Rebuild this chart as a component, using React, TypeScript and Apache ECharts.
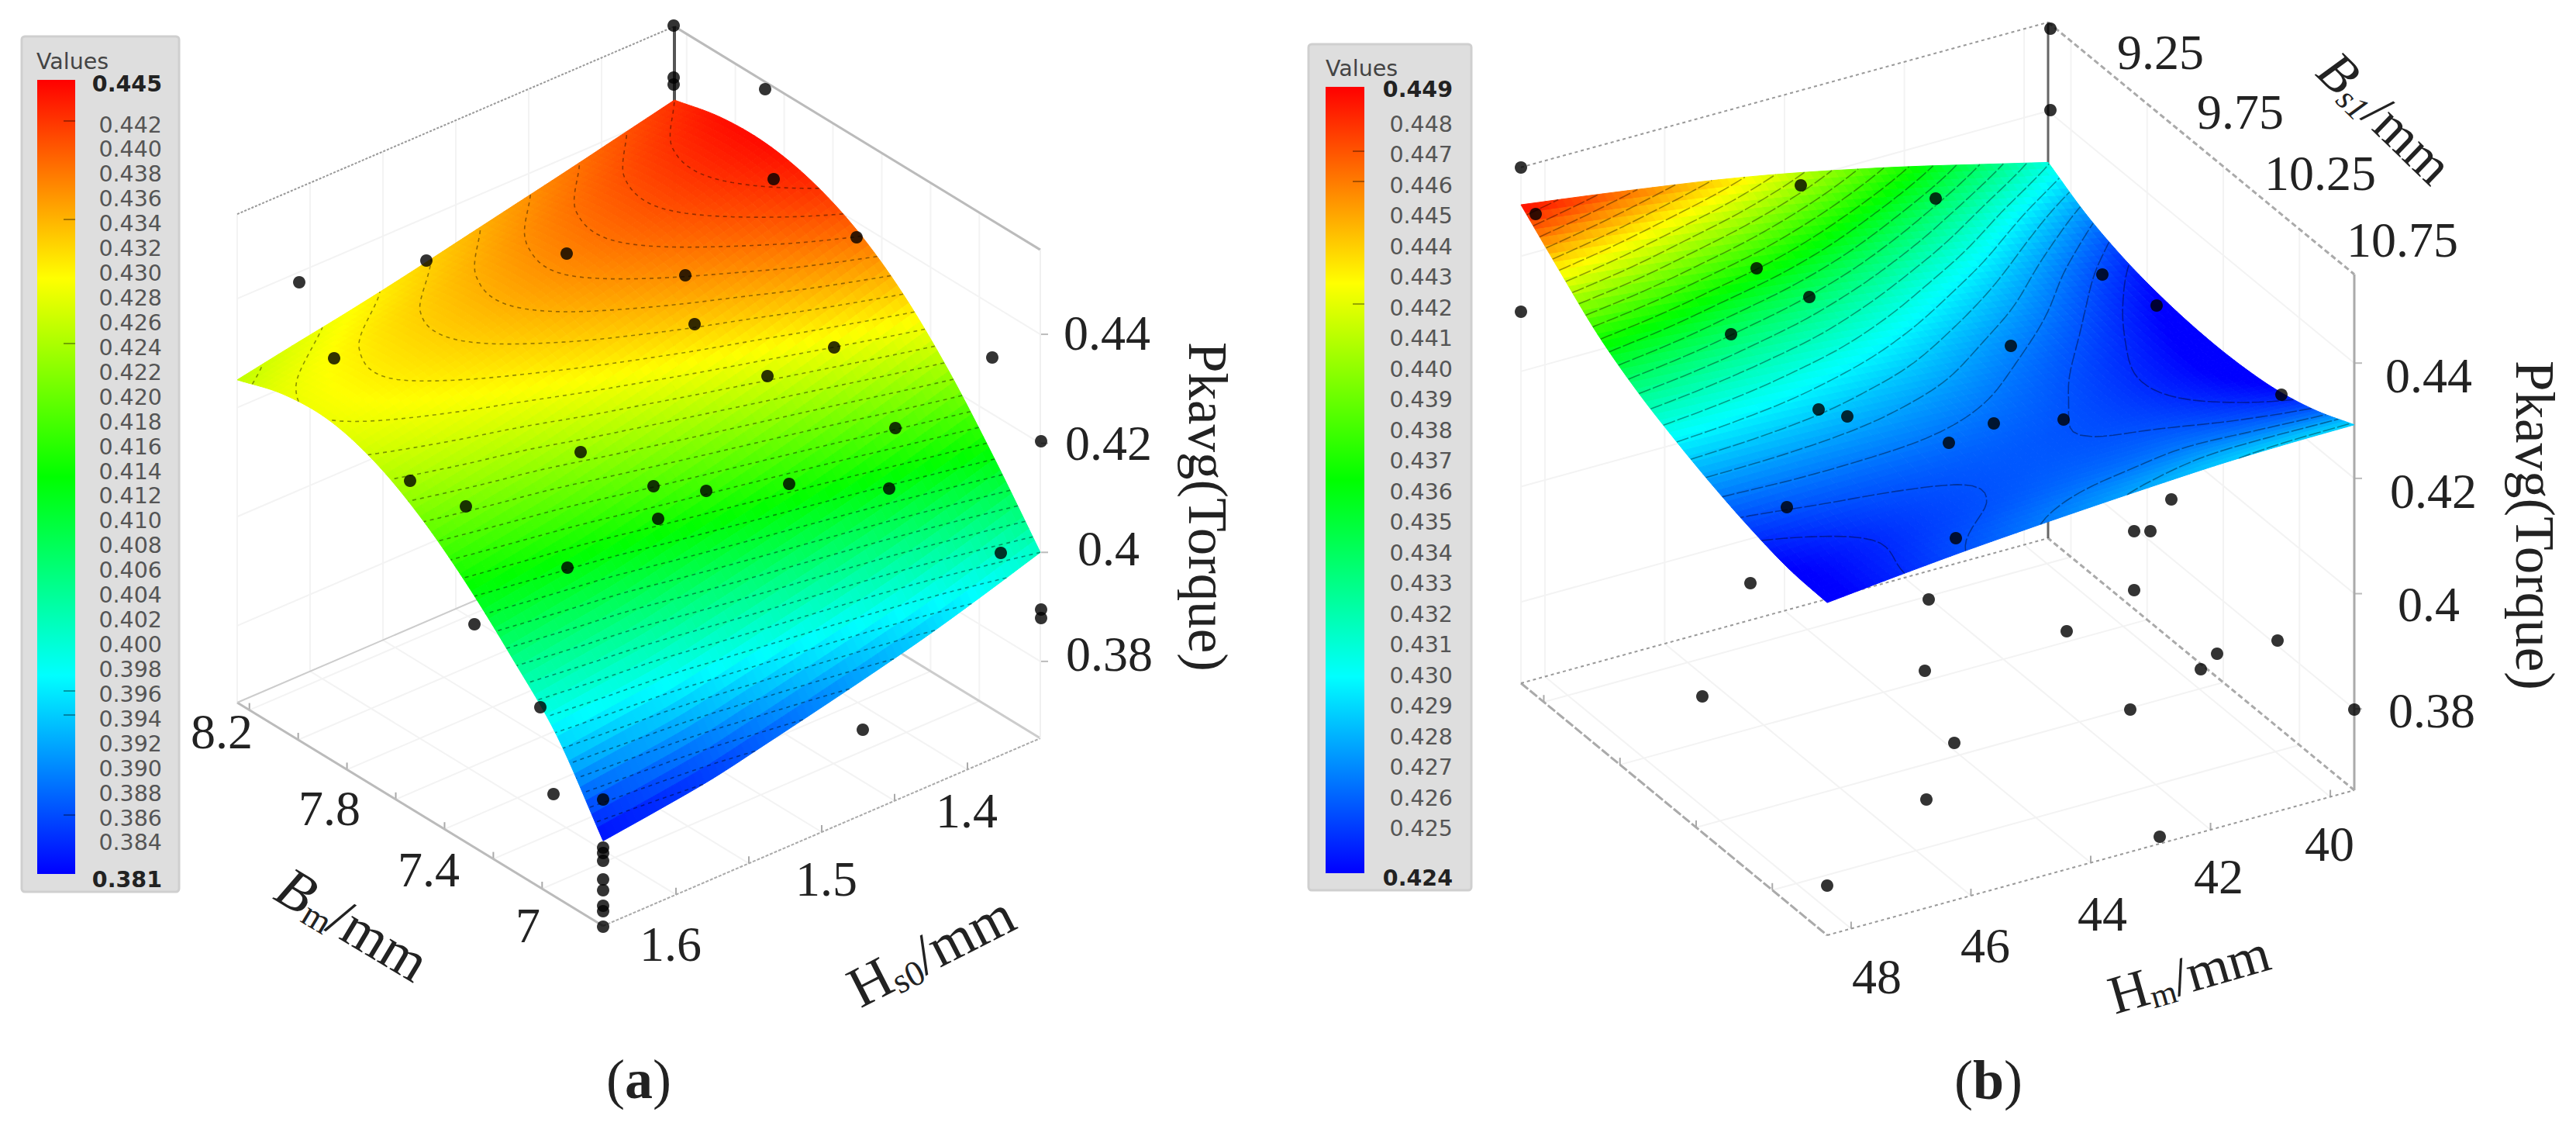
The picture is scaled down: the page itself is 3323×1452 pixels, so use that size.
import React, { useEffect, useRef } from "react";
import * as echarts from "echarts";

// ---------- values ----------
const hs0Values = [1.65, 1.6125, 1.575, 1.5375, 1.5, 1.4625, 1.425, 1.3875, 1.35];
const bmValues = [6.75, 6.9375, 7.125, 7.3125, 7.5, 7.6875, 7.875, 8.0625, 8.25];
const torqueA = [
  [0.3815, 0.3828, 0.3843, 0.3865, 0.3888, 0.3912, 0.3938, 0.3968, 0.4],
  [0.3955, 0.3967, 0.3979, 0.3999, 0.402, 0.4041, 0.4064, 0.4091, 0.412],
  [0.405, 0.4065, 0.408, 0.4102, 0.4124, 0.4147, 0.4172, 0.4201, 0.423],
  [0.4135, 0.4151, 0.4168, 0.419, 0.4213, 0.4237, 0.4263, 0.4291, 0.432],
  [0.4205, 0.4222, 0.4238, 0.426, 0.4282, 0.4306, 0.433, 0.4358, 0.4385],
  [0.4255, 0.4271, 0.4288, 0.4307, 0.4329, 0.4351, 0.4374, 0.4399, 0.4425],
  [0.428, 0.4296, 0.4312, 0.4331, 0.4353, 0.4374, 0.4396, 0.4419, 0.4443],
  [0.4276, 0.4293, 0.4311, 0.4329, 0.435, 0.4372, 0.4394, 0.4417, 0.444],
  [0.4251, 0.427, 0.4288, 0.4308, 0.433, 0.4352, 0.4374, 0.4397, 0.442],
];
const hmValues = [48.4, 47.3, 46.2, 45.1, 44, 42.9, 41.8, 40.7, 39.6];
const bs1Values = [11.11, 10.859, 10.608, 10.356, 10.105, 9.854, 9.603, 9.351, 9.1];
const torqueB = [
  [0.4236, 0.4248, 0.4259, 0.4268, 0.4276, 0.4283, 0.4289, 0.4292, 0.4293],
  [0.424, 0.4248, 0.4255, 0.426, 0.4264, 0.4266, 0.4268, 0.4266, 0.4263],
  [0.4255, 0.4259, 0.4261, 0.4262, 0.4262, 0.426, 0.4257, 0.4251, 0.4243],
  [0.4276, 0.4276, 0.4275, 0.4273, 0.4269, 0.4263, 0.4255, 0.4245, 0.4234],
  [0.4302, 0.4299, 0.4295, 0.4289, 0.4282, 0.4272, 0.4261, 0.4248, 0.4233],
  [0.4333, 0.4327, 0.432, 0.4312, 0.4301, 0.4288, 0.4274, 0.4257, 0.4239],
  [0.4374, 0.4365, 0.4354, 0.4343, 0.4329, 0.4312, 0.4294, 0.4273, 0.4252],
  [0.443, 0.4417, 0.4402, 0.4387, 0.4369, 0.4348, 0.4325, 0.43, 0.4275],
  [0.4489, 0.4473, 0.4456, 0.4438, 0.4417, 0.4393, 0.4367, 0.4339, 0.4311],
];
// design points as they appear in the picture plane
const pointsA = [
  [386, 364], [550, 336], [731, 327], [431, 462], [749, 583], [529, 620], [601, 653],
  [869, 33], [869, 100], [869, 109], [987, 115], [998, 231], [1105, 306], [884, 355],
  [896, 418], [1076, 448], [1280, 461], [990, 485], [1343, 569], [1155, 552], [843, 627],
  [911, 633], [1018, 624], [1147, 630], [849, 669], [732, 732], [612, 805], [697, 912],
  [714, 1024], [778, 1031], [778, 1093], [778, 1100], [778, 1110], [778, 1134], [778, 1148],
  [778, 1168], [778, 1175], [778, 1195], [1291, 713], [1343, 786], [1343, 797], [1113, 941],
];
const pointsB = [
  [1962, 216], [1981, 276], [1962, 402], [2323, 239], [2266, 346], [2334, 383], [2233, 431],
  [2346, 528], [2383, 537], [2305, 654], [2645, 37], [2645, 142], [2497, 256], [2712, 354],
  [2782, 394], [2594, 446], [2943, 509], [2572, 546], [2662, 541], [2514, 571], [2801, 644],
  [2753, 685], [2774, 685], [2523, 694], [2488, 773], [2753, 761], [2666, 814], [2860, 843],
  [2938, 826], [2839, 863], [2483, 865], [2748, 915], [3037, 915], [2521, 958], [2485, 1031],
  [2786, 1079], [2258, 752], [2196, 898], [2357, 1142],
];
const legendLabelsA = ["0.442","0.440","0.438","0.436","0.434","0.432","0.430","0.428","0.426","0.424","0.422","0.420","0.418","0.416","0.414","0.412","0.410","0.408","0.406","0.404","0.402","0.400","0.398","0.396","0.394","0.392","0.390","0.388","0.386","0.384"];
const legendLabelsB = ["0.448","0.447","0.446","0.445","0.444","0.443","0.442","0.441","0.440","0.439","0.438","0.437","0.436","0.435","0.434","0.433","0.432","0.431","0.430","0.429","0.428","0.427","0.426","0.425"];
const rangeA = [0.381, 0.445];
const rangeB = [0.424, 0.449];
const hs0Ticks = [1.4, 1.45, 1.5, 1.55, 1.6];
const bmTicks = [7, 7.2, 7.4, 7.6, 7.8, 8, 8.2];
const hmTicks = [40, 42, 44, 46, 48];
const bs1Ticks = [9.25, 9.75, 10.25, 10.75];
const torqueTicks = [0.38, 0.4, 0.42, 0.44];

// ---------- layout ----------
const W = 3323, H = 1452;
const SERIF = '"Liberation Serif"';
const SANS = '"DejaVu Sans"';
const RAINBOW = ["#0000ff", "#00ffff", "#00ff00", "#ffff00", "#ff0000"];
const SUB = 8;

type Panel = any;
const panelA: Panel = {
  front: [778, 1194], U: [564, -242], V: [-472, -288], k: 7030, floor: 0.3659, top: 0.4555,
  us: hs0Values, vs: bmValues, grid: torqueA, range: rangeA, uTicks: hs0Ticks, vTicks: bmTicks,
  levels: legendLabelsA.map(Number), dash: [5, 5], contour: "rgba(0,0,0,0.42)",
};
const panelB: Panel = {
  front: [2357, 1206], U: [680, -187], V: [-395, -325], k: 7433, floor: 0.3659, top: 0.4554,
  us: hmValues, vs: bs1Values, grid: torqueB, range: rangeB, uTicks: hmTicks, vTicks: bs1Ticks,
  levels: legendLabelsB.map(Number), dash: [16, 3], contour: "rgba(0,0,0,0.38)",
};

const project = (p: Panel, u: number, v: number, z: number) => [
  p.front[0] + u * p.U[0] + v * p.V[0],
  p.front[1] + u * p.U[1] + v * p.V[1] - (z - p.floor) * p.k,
];
const uOf = (p: Panel, val: number) => (val - p.us[0]) / (p.us[p.us.length - 1] - p.us[0]);
const vOf = (p: Panel, val: number) => (val - p.vs[0]) / (p.vs[p.vs.length - 1] - p.vs[0]);

// Smooth drawing of the read grid between its nodes.
const cr = (a: number, b: number, c: number, d: number, t: number) =>
  0.5 * (2 * b + (c - a) * t + (2 * a - 5 * b + 4 * c - d) * t * t + (3 * b - a - 3 * c + d) * t * t * t);
const buildMesh = (grid: number[][]) => {
  const n = grid.length - 1;
  const N = n * SUB;
  const at = (j: number, i: number) => {
    const jj = Math.max(0, Math.min(n, j));
    const ii = Math.max(0, Math.min(n, i));
    let val = grid[jj][ii];
    if (j < 0) val = 2 * grid[0][ii] - grid[1][ii];
    if (j > n) val = 2 * grid[n][ii] - grid[n - 1][ii];
    if (i < 0) val += grid[jj][0] - grid[jj][1];
    if (i > n) val += grid[jj][n] - grid[jj][n - 1];
    return val;
  };
  const mesh: number[][] = [];
  for (let b = 0; b <= N; b++) {
    const row: number[] = [];
    const j = Math.min(n - 1, Math.floor(b / SUB));
    const t = b / SUB - j;
    for (let a = 0; a <= N; a++) {
      const i = Math.min(n - 1, Math.floor(a / SUB));
      const s = a / SUB - i;
      const c = [-1, 0, 1, 2].map((dj) =>
        cr(at(j + dj, i - 1), at(j + dj, i), at(j + dj, i + 1), at(j + dj, i + 2), s)
      );
      row.push(cr(c[0], c[1], c[2], c[3], t));
    }
    mesh.push(row);
  }
  return mesh;
};
panelA.mesh = buildMesh(torqueA);
panelB.mesh = buildMesh(torqueB);

const colorOf = (z: number, range: number[]) => {
  const t = Math.max(0, Math.min(1, (z - range[0]) / (range[1] - range[0])));
  return echarts.color.lerp(t, RAINBOW) as string;
};

const contourChains = (p: Panel, level: number) => {
  const m = p.mesh;
  const N = m.length - 1;
  const pts = new Map<string, number[]>();
  const adj = new Map<string, string[]>();
  const link = (a: string, b: string) => {
    if (!adj.has(a)) adj.set(a, []);
    if (!adj.has(b)) adj.set(b, []);
    adj.get(a)!.push(b);
    adj.get(b)!.push(a);
  };
  const crossing = (a1: number, b1: number, a2: number, b2: number) => {
    const z1 = m[b1][a1] - level;
    const z2 = m[b2][a2] - level;
    if (z1 >= 0 === z2 >= 0) return null;
    const key = `${a1},${b1},${a2},${b2}`;
    if (!pts.has(key)) {
      const f = z1 / (z1 - z2);
      pts.set(key, project(p, (a1 + (a2 - a1) * f) / N, (b1 + (b2 - b1) * f) / N, level));
    }
    return key;
  };
  for (let b = 0; b < N; b++) {
    for (let a = 0; a < N; a++) {
      const e = [
        crossing(a, b, a + 1, b),
        crossing(a + 1, b, a + 1, b + 1),
        crossing(a, b + 1, a + 1, b + 1),
        crossing(a, b, a, b + 1),
      ].filter(Boolean) as string[];
      if (e.length === 2) link(e[0], e[1]);
      if (e.length === 4) { link(e[0], e[3]); link(e[1], e[2]); }
    }
  }
  const seen = new Set<string>();
  const chains: number[][][] = [];
  const walk = (start: string) => {
    const chain = [pts.get(start)!];
    seen.add(start);
    let cur = start;
    for (;;) {
      const next = (adj.get(cur) || []).find((k) => !seen.has(k));
      if (!next) break;
      seen.add(next);
      chain.push(pts.get(next)!);
      cur = next;
    }
    if (chain.length > 1) chains.push(chain);
  };
  adj.forEach((v, k) => { if (v.length === 1 && !seen.has(k)) walk(k); });
  adj.forEach((_, k) => { if (!seen.has(k)) walk(k); });
  return chains;
};

const surfaceSeries = (p: Panel) => {
  const n = p.grid.length - 1;
  const cells: number[][] = [];
  for (let j = n - 1; j >= 0; j--) for (let i = n - 1; i >= 0; i--) cells.push([i, j]);
  return {
    type: "custom", coordinateSystem: "cartesian2d", silent: true, clip: false, z: 3,
    encode: { x: 0, y: 1 }, data: cells,
    renderItem: (_: any, api: any) => {
      const i = api.value(0), j = api.value(1);
      const N = n * SUB;
      const children: any[] = [];
      for (let b = (j + 1) * SUB - 1; b >= j * SUB; b--) {
        for (let a = (i + 1) * SUB - 1; a >= i * SUB; a--) {
          const c = [[a, b], [a + 1, b], [a + 1, b + 1], [a, b + 1]];
          const zs = c.map(([x, y]) => p.mesh[y][x]);
          const col = colorOf((zs[0] + zs[1] + zs[2] + zs[3]) / 4, p.range);
          children.push({
            type: "polygon",
            shape: { points: c.map(([x, y], q) => api.coord(project(p, x / N, y / N, zs[q]))) },
            style: { fill: col, stroke: col, lineWidth: 1 },
          });
        }
      }
      return { type: "group", children };
    },
  };
};

const contourSeries = (p: Panel) => ({
  type: "custom", coordinateSystem: "cartesian2d", silent: true, clip: false, z: 4,
  encode: { x: 0, y: 1 }, data: p.levels.map((l: number) => [l, 0]),
  renderItem: (_: any, api: any) => {
    const chains = contourChains(p, api.value(0));
    return {
      type: "group",
      children: chains.map((ch) => ({
        type: "polyline",
        shape: { points: ch.map((q) => api.coord(q)) },
        style: { fill: "none", stroke: p.contour, lineWidth: 1.6, lineDash: p.dash },
      })),
    };
  },
});

// frame, wall and floor lines, all derived from the axis ticks
const frameLines = (p: Panel, st: any) => {
  const out: any[] = [];
  const add = (a: number[], b: number[], style: any) => out.push({ a, b, style });
  const P = (u: number, v: number, z: number) => project(p, u, v, z);
  const light = { stroke: "#f3f3f3", lineWidth: 2 };
  p.uTicks.forEach((t: number) => {
    const u = uOf(p, t);
    add(P(u, 0, p.floor), P(u, 1, p.floor), light);
    add(P(u, 1, p.floor), P(u, 1, p.top), light);
    const q = P(u, 0, p.floor);
    add(q, [q[0], q[1] - 9], { stroke: "#aaaaaa", lineWidth: 2 });
  });
  p.vTicks.forEach((t: number) => {
    const v = vOf(p, t);
    add(P(0, v, p.floor), P(1, v, p.floor), light);
    add(P(1, v, p.floor), P(1, v, p.top), light);
    const q = P(0, v, p.floor);
    add(q, [q[0], q[1] - 9], { stroke: "#aaaaaa", lineWidth: 2 });
  });
  torqueTicks.forEach((z) => {
    add(P(0, 1, z), P(1, 1, z), light);
    add(P(1, 1, z), P(1, 0, z), light);
    const q = P(1, 0, z);
    add(q, [q[0] + 10, q[1]], { stroke: "#bbbbbb", lineWidth: 2 });
  });
  add(P(0, 1, p.floor), P(0, 1, p.top), light);
  add(P(0, 1, p.top), P(1, 1, p.top), st.topLeft);
  add(P(1, 1, p.top), P(1, 0, p.top), st.topRight);
  add(P(0, 1, p.floor), P(0, 0, p.floor), st.floorLeft);
  add(P(0, 0, p.floor), P(1, 0, p.floor), st.floorRight);
  add(P(0, 1, p.floor), P(1, 1, p.floor), st.backLeft);
  add(P(1, 0, p.floor), P(1, 1, p.floor), st.backRight);
  add(P(1, 1, p.floor), P(1, 1, p.top), st.backAxis);
  add(P(1, 0, p.floor), P(1, 0, p.top), st.rightAxis);
  return out;
};

const frameSeries = (p: Panel, st: any) => {
  const lines = frameLines(p, st);
  return {
    type: "custom", coordinateSystem: "cartesian2d", silent: true, clip: false, z: 2,
    encode: { x: 0, y: 1 }, data: lines.map((_, i) => [i, 0]),
    renderItem: (_: any, api: any) => {
      const l = lines[api.value(0)];
      const a = api.coord(l.a), b = api.coord(l.b);
      return {
        type: "line",
        shape: { x1: a[0], y1: a[1], x2: b[0], y2: b[1] },
        style: { fill: "none", ...l.style },
      };
    },
  };
};

const styleA = {
  topLeft: { stroke: "#999999", lineWidth: 2, lineDash: [3, 2] },
  topRight: { stroke: "#bbbbbb", lineWidth: 3 },
  floorLeft: { stroke: "#bbbbbb", lineWidth: 3 },
  floorRight: { stroke: "#aaaaaa", lineWidth: 2, lineDash: [4, 2] },
  backLeft: { stroke: "#cccccc", lineWidth: 2 },
  backRight: { stroke: "#cccccc", lineWidth: 3 },
  backAxis: { stroke: "#555555", lineWidth: 4 },
  rightAxis: { stroke: "#f0f0f0", lineWidth: 2 },
};
const styleB = {
  topLeft: { stroke: "#999999", lineWidth: 2, lineDash: [4, 4] },
  topRight: { stroke: "#aaaaaa", lineWidth: 3, lineDash: [7, 4] },
  floorLeft: { stroke: "#aaaaaa", lineWidth: 3, lineDash: [12, 3] },
  floorRight: { stroke: "#999999", lineWidth: 2, lineDash: [4, 4] },
  backLeft: { stroke: "#999999", lineWidth: 2, lineDash: [4, 4] },
  backRight: { stroke: "#aaaaaa", lineWidth: 3, lineDash: [7, 4] },
  backAxis: { stroke: "#666666", lineWidth: 3 },
  rightAxis: { stroke: "#aaaaaa", lineWidth: 3 },
};

// ---------- text helpers ----------
const label = (text: string, x: number, y: number, size = 64) => ({
  type: "text", x, y, silent: true, z: 20,
  style: { text, fill: "#222222", fontFamily: SERIF, fontSize: size, align: "center", verticalAlign: "middle" },
});
type Part = { t: string; w: number; i?: boolean; sub?: boolean; b?: boolean };
const title = (parts: Part[], cx: number, cy: number, deg: number, size: number) => {
  const scale = (q: Part) => (q.sub ? 0.62 : 1);
  const total = parts.reduce((s, q) => s + q.w * scale(q) * size, 0);
  let x = -total / 2;
  const children = parts.map((q) => {
    const el = {
      type: "text", x, y: q.sub ? size * 0.22 : 0, silent: true,
      style: {
        text: q.t, fill: "#222222", fontFamily: SERIF, fontSize: size * scale(q),
        fontStyle: q.i ? "italic" : "normal", fontWeight: q.b ? "bold" : "normal",
        align: "left", verticalAlign: "middle",
      },
    };
    x += q.w * scale(q) * size;
    return el;
  });
  return { type: "group", x: cx, y: cy, rotation: (-deg * Math.PI) / 180, z: 20, silent: true, children };
};
const legendText = (text: string, right: number, y: number, bold = false) => ({
  type: "text", x: right, y, silent: true, z: 20,
  style: {
    text, fill: bold ? "#222222" : "#555555", fontFamily: SANS, fontSize: 28.5,
    fontWeight: bold ? "bold" : "normal", align: "right", verticalAlign: "middle",
  },
});
const legend = (box: number[], bar: number[], right: number, titleX: number, titleY: number,
  labels: string[], y0: number, dy: number, top: string, topY: number, bottom: string, bottomY: number, marks: number[]) => {
  const out: any[] = [
    { type: "rect", z: 10, silent: true, shape: { x: box[0], y: box[1], width: box[2], height: box[3], r: 4 },
      style: { fill: "#dedede", stroke: "#cfcfcf", lineWidth: 3 } },
    { type: "rect", z: 11, silent: true, shape: { x: bar[0], y: bar[1], width: bar[2], height: bar[3] },
      style: {
        fill: new echarts.graphic.LinearGradient(0, 0, 0, 1, [...RAINBOW].reverse().map((color, i) => ({ offset: i / 4, color }))),
      } },
    { type: "text", x: titleX, y: titleY, silent: true, z: 20,
      style: { text: "Values", fill: "#444444", fontFamily: SANS, fontSize: 28.5, align: "left", verticalAlign: "middle" } },
    legendText(top, right, topY, true),
    legendText(bottom, right, bottomY, true),
  ];
  labels.forEach((s, i) => out.push(legendText(s, right, y0 + i * dy)));
  marks.forEach((y) => out.push({
    type: "line", z: 12, silent: true,
    shape: { x1: bar[0] + bar[2] - 15, y1: y, x2: bar[0] + bar[2], y2: y },
    style: { stroke: "rgba(0,0,0,0.35)", lineWidth: 2 },
  }));
  return out;
};

const graphicElements = [
  ...legend([28, 47, 203, 1103], [48, 103, 49, 1024], 209, 47, 79, legendLabelsA, 161, 31.93, "0.445", 108, "0.381", 1134,
    [156, 283, 443, 891, 922, 1051]),
  ...legend([1688, 57, 210, 1091], [1710, 112, 50, 1014], 1874, 1710, 88, legendLabelsB, 160, 39.52, "0.449", 115, "0.424", 1132,
    [195, 234, 392]),
  // panel (a)
  label("0.44", 1428, 429), label("0.42", 1430, 571), label("0.4", 1430, 707), label("0.38", 1431, 843),
  label("8.2", 286, 943), label("7.8", 425, 1042), label("7.4", 553, 1121), label("7", 681, 1193),
  label("1.6", 865, 1217), label("1.5", 1066, 1133), label("1.4", 1247, 1045),
  title([{ t: "Pkavg(Torque)", w: 6.054 }], 1558, 656, 90, 71),
  title([{ t: "B", w: 0.611, i: true }, { t: "m", w: 0.722, sub: true }, { t: "/mm", w: 1.834 }], 455, 1192, 31, 74),
  title([{ t: "H", w: 0.722 }, { t: "s0", w: 0.889, sub: true }, { t: "/mm", w: 1.834 }], 1201, 1226, -27, 74),
  title([{ t: "(", w: 0.333 }, { t: "a", w: 0.5, b: true }, { t: ")", w: 0.333 }], 824, 1392, 0, 72),
  // panel (b)
  label("0.44", 3133, 484), label("0.42", 3139, 633), label("0.4", 3133, 779), label("0.38", 3137, 916),
  label("48", 2421, 1259), label("46", 2561, 1219), label("44", 2712, 1178), label("42", 2862, 1130), label("40", 3005, 1088),
  label("9.25", 2787, 67), label("9.75", 2890, 144), label("10.25", 2993, 223), label("10.75", 3099, 309),
  title([{ t: "Pkavg(Torque)", w: 6.054 }], 3270, 680, 90, 71),
  title([{ t: "B", w: 0.611, i: true }, { t: "s1", w: 0.889, sub: true, i: true }, { t: "/mm", w: 1.834 }], 3077, 152, 44, 70),
  title([{ t: "H", w: 0.722 }, { t: "m", w: 0.778, sub: true }, { t: "/mm", w: 1.834 }], 2824, 1256, -16, 70),
  title([{ t: "(", w: 0.333 }, { t: "b", w: 0.556, b: true }, { t: ")", w: 0.333 }], 2565, 1393, 0, 72),
];

const dots = (data: number[][]) => ({
  type: "scatter", data, symbol: "circle", symbolSize: 16, silent: true, z: 6, clip: false,
  itemStyle: { color: "#000000" },
});

export default function App() {
  const ref = useRef<HTMLDivElement>(null);
  useEffect(() => {
    document.body.style.margin = "0";
    const chart = echarts.init(ref.current!, undefined, { renderer: "svg" });
    chart.setOption({
      animation: false,
      backgroundColor: "#ffffff",
      grid: { left: 0, right: 0, top: 0, bottom: 0 },
      xAxis: { type: "value", min: 0, max: W, show: false },
      yAxis: { type: "value", min: 0, max: H, inverse: true, show: false },
      series: [
        frameSeries(panelA, styleA),
        frameSeries(panelB, styleB),
        surfaceSeries(panelA),
        surfaceSeries(panelB),
        contourSeries(panelA),
        contourSeries(panelB),
        dots(pointsA),
        dots(pointsB),
      ],
      graphic: { elements: graphicElements },
    });
    return () => chart.dispose();
  }, []);
  return <div ref={ref} style={{ width: W, height: H }} />;
}
